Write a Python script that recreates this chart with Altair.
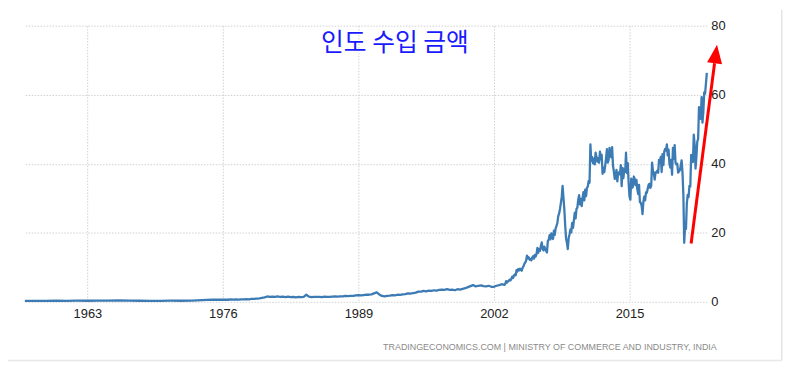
import altair as alt
import pandas as pd

# ---- data (USD billion per month) ----
# annual points 1957-1975
years_1957_1975 = list(range(1957, 1976))
imports_1957_1975 = [0.30, 0.28, 0.29, 0.31, 0.30, 0.32, 0.31, 0.34, 0.36, 0.42, 0.34, 0.31,
                     0.30, 0.29, 0.32, 0.31, 0.37, 0.50, 0.65]
# quarterly points 1976-2002
imports_1976_2002 = [0.60, 0.66, 0.60, 0.68, 0.64, 0.70, 0.66, 0.74, 0.72, 0.78, 0.74, 0.85,
                     0.85, 0.95, 1.00, 1.15, 1.30, 1.55, 1.40, 1.50, 1.45, 1.60, 1.40, 1.50,
                     1.35, 1.50, 1.35, 1.45, 1.30, 1.40, 1.35, 1.45, 2.05, 1.50, 1.35, 1.45,
                     1.40, 1.45, 1.35, 1.50, 1.45, 1.40, 1.50, 1.55, 1.50, 1.60, 1.55, 1.70,
                     1.65, 1.75, 1.70, 1.85, 1.90, 1.85, 1.95, 2.05, 2.05, 2.15, 2.45, 2.75,
                     2.15, 1.70, 1.60, 1.75, 1.80, 1.95, 1.85, 2.05, 2.00, 2.15, 2.25, 2.45,
                     2.35, 2.55, 2.65, 2.95, 2.95, 3.15, 3.05, 3.25, 3.15, 3.35, 3.25, 3.45,
                     3.55, 3.45, 3.65, 3.45, 3.55, 3.35, 3.65, 3.55, 3.75, 3.95, 4.25, 4.55,
                     4.85, 4.45, 4.65, 4.75, 4.55, 4.45, 4.65, 4.35, 4.35, 4.65, 4.85, 5.10]
# monthly points 2003-2012
imports_2003_2012 = [4.9, 5.2, 6.0, 5.6, 5.9, 6.1, 6.4, 6.2, 6.7, 7.3, 6.9, 7.6,
                     7.9, 7.7, 9.2, 8.8, 9.5, 9.1, 9.6, 9.3, 9.0, 9.9, 10.3, 11.0,
                     11.4, 11.9, 13.4, 12.6, 12.9, 12.2, 12.4, 12.0, 12.8, 13.2, 12.5, 13.6,
                     13.1, 13.8, 15.6, 14.2, 15.3, 14.8, 16.2, 17.2, 15.4, 14.9, 16.0, 15.3,
                     14.8, 14.3, 17.6, 18.0, 19.3, 18.1, 19.8, 18.9, 18.2, 20.6, 19.4, 21.3,
                     22.0, 22.9, 24.8, 25.6, 26.9, 28.6, 30.4, 33.6, 30.2, 26.8, 22.1, 18.3,
                     17.1, 15.3, 18.5, 19.6, 21.0, 20.1, 22.9, 21.4, 23.6, 25.8, 24.2, 26.9,
                     27.3, 29.6, 30.9, 28.2, 29.8, 27.7, 30.1, 31.8, 29.4, 32.5, 30.6, 33.0,
                     33.4, 35.0, 34.5, 45.6, 40.8, 41.9, 40.1, 41.5, 39.8, 43.2, 42.0, 40.6,
                     41.6, 40.3, 43.5, 41.3, 42.6, 37.1, 38.9, 37.6, 39.4, 41.6, 44.2, 40.3]
# monthly points 2013-2022 (to June 2022)
imports_2013_2022 = [41.2, 44.6, 42.2, 41.9, 44.8, 39.5, 37.8, 35.6, 36.1, 38.2, 34.9, 37.4,
                     37.5, 36.9, 39.6, 33.5, 38.8, 35.8, 38.4, 37.6, 43.2, 37.3, 40.2, 34.6,
                     30.5, 29.6, 35.7, 33.0, 33.4, 36.3, 35.6, 33.8, 35.3, 32.6, 31.2, 33.9,
                     28.9, 28.7, 27.8, 25.4, 29.0, 30.5, 29.4, 31.7, 31.6, 32.8, 33.9, 34.2,
                     33.0, 33.6, 40.3, 37.9, 37.2, 35.4, 37.5, 37.5, 38.0, 37.4, 41.1, 40.3,
                     42.0, 37.6, 42.8, 39.6, 43.5, 44.3, 43.8, 45.6, 42.4, 44.1, 40.0, 38.9,
                     41.1, 36.8, 44.6, 41.4, 45.4, 40.3, 39.8, 40.0, 37.4, 37.8, 38.1, 39.4,
                     41.0, 37.5, 31.2, 17.1, 22.2, 21.1, 28.5, 31.0, 30.3, 33.6, 33.4, 42.6,
                     42.0, 40.5, 48.4, 45.5, 38.6, 41.9, 46.4, 47.1, 56.4, 55.4, 53.0, 59.3,
                     51.9, 55.0, 60.7, 60.3, 63.2, 66.3]

x_ticks = [1963, 1976, 1989, 2002, 2015]
y_ticks = [0, 20, 40, 60, 80]
x_domain = [1957.0, 2022.4167]
y_domain = [0, 80]

title_text = "인도 수입 금액"
title_pos = [1992.5, 75.0]
source_text = "TRADINGECONOMICS.COM  |  MINISTRY OF COMMERCE AND INDUSTRY, INDIA"
source_pos = [2022.4167, -13.0]
arrow_tail = [2020.91, 16.9]
arrow_base = [2023.16, 69.1]
arrow_head = [2023.28, 71.8]
frame_left, frame_right = 1955.39, 2029.6
frame_top, frame_bottom = 84.6, -17.0

# ---- build table ----
xs, ys = [], []
for yr, v in zip(years_1957_1975, imports_1957_1975):
    xs.append(yr); ys.append(v)
for i, v in enumerate(imports_1976_2002):
    xs.append(1976 + i / 4); ys.append(v)
for i, v in enumerate(imports_2003_2012):
    xs.append(2003 + i / 12); ys.append(v)
for i, v in enumerate(imports_2013_2022):
    xs.append(2013 + i / 12); ys.append(v)
df = pd.DataFrame({"year": xs, "value": ys})

xscale = alt.Scale(domain=x_domain, nice=False, zero=False)
yscale = alt.Scale(domain=y_domain, nice=False, zero=False)
NARROW = "Liberation Sans Narrow, Liberation Sans, Arial"

line = alt.Chart(df).mark_line(color="#3c7bb4", strokeWidth=2.3, strokeJoin="round").encode(
    x=alt.X("year:Q", scale=xscale,
            axis=alt.Axis(values=x_ticks, format="d", title=None, ticks=False, domain=False,
                          grid=True, gridColor="#d0d0d0", gridDash=[1.5, 1.5],
                          labelFont=NARROW, labelFontSize=13, labelColor="#222222",
                          labelPadding=6)),
    y=alt.Y("value:Q", scale=yscale,
            axis=alt.Axis(orient="right", values=y_ticks, title=None, ticks=False, domain=False,
                          grid=True, gridColor="#d0d0d0", gridDash=[1.5, 1.5],
                          labelFont=NARROW, labelFontSize=13, labelColor="#222222",
                          labelPadding=4)),
)

ann = pd.DataFrame({"x": [title_pos[0]], "y": [title_pos[1]], "t": [title_text]})
title = alt.Chart(ann).mark_text(font="Noto Sans CJK KR", fontSize=25, color="#1a1aff",
                                 align="center", baseline="middle").encode(
    x=alt.X("x:Q", scale=xscale), y=alt.Y("y:Q", scale=yscale), text="t:N")

src = pd.DataFrame({"x": [source_pos[0]], "y": [source_pos[1]], "t": [source_text]})
source = alt.Chart(src).mark_text(font=NARROW, fontSize=9, color="#8a8a8a",
                                  align="right", baseline="middle", dx=10).encode(
    x=alt.X("x:Q", scale=xscale), y=alt.Y("y:Q", scale=yscale), text="t:N")

arr = pd.DataFrame({"x": [arrow_tail[0]], "y": [arrow_tail[1]],
                    "x2": [arrow_base[0]], "y2": [arrow_base[1]]})
shaft = alt.Chart(arr).mark_rule(color="#ff0000", strokeWidth=3).encode(
    x=alt.X("x:Q", scale=xscale), y=alt.Y("y:Q", scale=yscale), x2="x2:Q", y2="y2:Q")
head_df = pd.DataFrame({"x": [arrow_head[0]], "y": [arrow_head[1]]})
head = alt.Chart(head_df).mark_point(shape="M-0.8,1L0.8,1L0,-1Z", size=361, filled=True,
                                     color="#ff0000", opacity=1, angle=7.4, strokeWidth=0).encode(
    x=alt.X("x:Q", scale=xscale), y=alt.Y("y:Q", scale=yscale))

fr_b = pd.DataFrame({"x": [frame_left], "x2": [frame_right], "y": [frame_bottom]})
frame_bottom_rule = alt.Chart(fr_b).mark_rule(color="#e8e8e8", strokeWidth=1.5).encode(
    x=alt.X("x:Q", scale=xscale), x2="x2:Q", y=alt.Y("y:Q", scale=yscale))
fr_r = pd.DataFrame({"x": [frame_right], "y": [frame_top], "y2": [frame_bottom]})
frame_right_rule = alt.Chart(fr_r).mark_rule(color="#e4e4e4", strokeWidth=1.5).encode(
    x=alt.X("x:Q", scale=xscale), y=alt.Y("y:Q", scale=yscale), y2="y2:Q")

chart = alt.layer(line, title, source, shaft, head, frame_bottom_rule, frame_right_rule).properties(
    width=689, height=279,
    autosize=alt.AutoSizeParams(type="none"),
    padding={"left": 17, "top": 16, "right": 80, "bottom": 63},
    background="white",
).configure_view(stroke=None)

chart.save("out.html", embed_options={"renderer": "svg", "actions": False})
